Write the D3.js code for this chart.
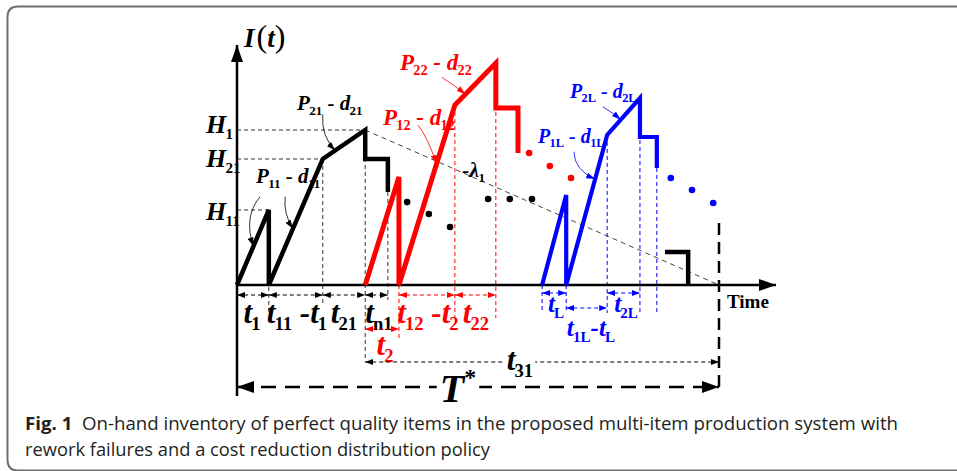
<!DOCTYPE html>
<html>
<head>
<meta charset="utf-8">
<script src="https://cdn.jsdelivr.net/npm/d3@7"></script>
<style>
  body { margin: 0; background: #fff; }
  svg { display: block; }
</style>
</head>
<body>
<script>
// time is in units of T* (T* = 100), stock in units of H1 (H1 = 100)
const blackCycle = [[0, 0], [6.6, 48.4], [6.6, 0], [17.8, 81.3], [26.6, 100], [26.6, 81.3], [31.3, 81.3], [31.3, 60]];
const redCycle = [[26.6, 0], [33.6, 69.7], [33.6, 0], [45.2, 116.1], [53.7, 143.2], [53.7, 114.2], [58.3, 114.2], [58.3, 85.2]];
const blueCycle = [[63.3, 0], [68.3, 58.1], [68.3, 0], [76.8, 96.8], [83.6, 120.6], [83.6, 95.5], [87.1, 95.5], [87.1, 75.5]];
const lastStep = [[88.8, 21.3], [93.6, 21.3], [93.6, 0]];

const blackDots = [[35.3, 53.5], [39.8, 45.8], [44.2, 37.4], [52.1, 55.5], [56.6, 55.5], [61.2, 55.5]];
const redDots = [[60.6, 85.2], [64.9, 76.8], [69.3, 69.0]];
const blueDots = [[90.0, 69.0], [94.4, 61.3], [98.8, 52.9]];

// levels on the stock axis
const levelNames = [["H", "1"], ["H", "21"], ["H", "11"]];
const levelValues = [100, 81.3, 48.4];
const levelTimes = [26.6, 17.8, 6.6];

// interval boundaries and labels (main, sub, main, sub ...)
const blackBreaks = [0, 6.6, 17.8, 26.6, 31.3];
const blackSpanLabels = [["t", "1"], ["t", "11", " -t", "1"], ["t", "21"], ["t", "n1"]];
const redBreaks = [33.6, 45.2, 53.7];
const redSpanLabels = [["t", "12", " -t", "2"], ["t", "22"]];
const redLowSpan = [26.6, 33.6];
const redLowLabel = ["t", "2"];
const blueSpans = [[63.3, 68.3], [76.8, 83.6]];
const blueSpanLabels = [["t", "L"], ["t", "2L"]];
const blueLowSpan = [68.3, 76.8];
const blueLowLabel = ["t", "1L", "-t", "L"];
const cycleEnd = 100;
const t31Start = 26.6;

// rate labels
const rateLabels = [
  ["P", "11", " - d", "11"], ["P", "21", " - d", "21"],
  ["P", "12", " - d", "12"], ["P", "22", " - d", "22"],
  ["P", "1L", " - d", "1L"], ["P", "2L", " - d", "2L"]
];
const blackSteep = [[0, 0], [6.6, 48.4]];

const width = 957, height = 471;
const serif = "'Liberation Serif', 'Times New Roman', serif";

const svg = d3.select("body").append("svg")
  .attr("width", width)
  .attr("height", height);

const x = d3.scaleLinear().domain([0, 100]).range([237, 719]);
const y = d3.scaleLinear().domain([0, 100]).range([285, 130]);

// frame
svg.append("path")
  .attr("d", "M957,6.5 H18 Q7.5,6.5 7.5,17 V460 Q7.5,470.5 18,470.5 H957")
  .attr("fill", "none")
  .attr("stroke", "#6e6e6e")
  .attr("stroke-width", 2);

// arrow heads
const defs = svg.append("defs");
function arrowMarker(id, color, len, wid) {
  defs.append("marker")
    .attr("id", id)
    .attr("markerUnits", "userSpaceOnUse")
    .attr("markerWidth", len)
    .attr("markerHeight", wid)
    .attr("viewBox", "0 0 " + len + " " + wid)
    .attr("refX", len)
    .attr("refY", wid / 2)
    .attr("orient", "auto-start-reverse")
    .append("path")
    .attr("d", "M0,0 L" + len + "," + (wid / 2) + " L0," + wid + " Z")
    .attr("fill", color);
}
arrowMarker("bigK", "#000", 17, 12);
arrowMarker("smK", "#000", 8, 6);
arrowMarker("smR", "#f00", 8, 6);
arrowMarker("smB", "#00f", 8, 6);
arrowMarker("ptK", "#000", 9, 6);
arrowMarker("ptR", "#f00", 9, 6);
arrowMarker("ptB", "#00f", 9, 6);

// text with subscripts: parts alternate main / sub
function rich(g, px, py, parts, size, color, anchor, subScale) {
  const k = subScale || 0.6;
  const t = g.append("text")
    .attr("x", px).attr("y", py)
    .attr("fill", color)
    .attr("font-family", serif)
    .attr("font-weight", "bold")
    .attr("text-anchor", anchor || "middle")
    .attr("xml:space", "preserve");
  let shifted = 0;
  parts.forEach((p, i) => {
    const sub = i % 2 === 1;
    const dy = sub ? size * 0.22 : 0;
    t.append("tspan")
      .text(p)
      .attr("dy", dy - shifted)
      .attr("dx", sub ? -size * 0.03 : 0)
      .attr("font-size", sub ? size * k : size)
      .attr("font-style", sub ? "normal" : "italic");
    shifted = dy;
  });
  return t;
}

function backWhite(t, pad) {
  const b = t.node().getBBox();
  svg.insert("rect", function () { return t.node(); })
    .attr("x", b.x - pad).attr("y", b.y + 4)
    .attr("width", b.width + 2 * pad).attr("height", b.height - 8)
    .attr("fill", "#fff");
}

function dashed(x1, y1, x2, y2, color, dash, w) {
  return svg.append("line")
    .attr("x1", x1).attr("y1", y1).attr("x2", x2).attr("y2", y2)
    .attr("stroke", color)
    .attr("stroke-width", w || 1)
    .attr("stroke-dasharray", dash || "4,3");
}

// guide lines for levels
levelValues.forEach((v, i) => {
  dashed(x(0), y(v), x(levelTimes[i]), y(v), "#333");
});

// -lambda line
dashed(x(26.6), y(100), x(cycleEnd), y(0), "#444", "5,4");

// vertical guides
const blackDrops = [[6.6, 48.4, 315], [17.8, 81.3, 304], [26.6, 100, 362], [31.3, 60, 300]];
blackDrops.forEach(d => dashed(x(d[0]), y(d[1]), x(d[0]), d[2], "#333"));
const redDrops = [[33.6, 0, 338], [45.2, 116.1, 318], [53.7, 143.2, 318]];
redDrops.forEach(d => dashed(x(d[0]), y(d[1]), x(d[0]), d[2], "#f00"));
const blueDrops = [[63.3, 0, 313], [68.3, 0, 313], [76.8, 96.8, 313], [83.6, 120.6, 313], [87.1, 75.5, 313]];
blueDrops.forEach(d => dashed(x(d[0]), y(d[1]), x(d[0]), d[2], "#00f"));

// end of cycle line
dashed(x(cycleEnd), 223, x(cycleEnd), 387, "#000", "12,7", 2.5);

// axes
svg.append("line")
  .attr("x1", x(0)).attr("y1", 396).attr("x2", x(0)).attr("y2", 45)
  .attr("stroke", "#000").attr("stroke-width", 2.5)
  .attr("marker-end", "url(#bigK)");
svg.append("line")
  .attr("x1", x(0)).attr("y1", y(0)).attr("x2", 776).attr("y2", y(0))
  .attr("stroke", "#000").attr("stroke-width", 2.5)
  .attr("marker-end", "url(#bigK)");

// inventory curves
const line = d3.line().x(d => x(d[0])).y(d => y(d[1]));
[[blackCycle, "#000", 4.5], [redCycle, "#f00", 5], [blueCycle, "#00f", 4.2], [lastStep, "#000", 4.5]]
  .forEach(c => {
    svg.append("path")
      .datum(c[0])
      .attr("d", line)
      .attr("fill", "none")
      .attr("stroke", c[1])
      .attr("stroke-width", c[2])
      .attr("stroke-linejoin", "miter")
      .attr("stroke-miterlimit", 3);
  });

// dots
[[blackDots, "#000"], [redDots, "#f00"], [blueDots, "#00f"]].forEach(s => {
  svg.selectAll(null)
    .data(s[0])
    .enter()
    .append("circle")
    .attr("cx", d => x(d[0]))
    .attr("cy", d => y(d[1]))
    .attr("r", 3.3)
    .attr("fill", s[1]);
});

// interval arrows
function span(t0, t1, py, color, mk) {
  dashed(x(t0), py, x(t1), py, color, "4,3", 1.1)
    .attr("marker-start", "url(#" + mk + ")")
    .attr("marker-end", "url(#" + mk + ")");
}
for (let i = 0; i < blackBreaks.length - 1; i++) {
  span(blackBreaks[i], blackBreaks[i + 1], 295, "#000", "smK");
}
const blackLabelX = [252, 297, 344, 379];
blackSpanLabels.forEach((l, i) => rich(svg, blackLabelX[i], 323, l, 31, "#000"));

for (let i = 0; i < redBreaks.length - 1; i++) {
  span(redBreaks[i], redBreaks[i + 1], 295, "#f00", "smR");
}
const redLabelX = [428, 476];
redSpanLabels.forEach((l, i) => rich(svg, redLabelX[i], 323, l, 31, "#f00"));
span(redLowSpan[0], redLowSpan[1], 329, "#f00", "smR");
rich(svg, 385, 355, redLowLabel, 31, "#f00");

blueSpans.forEach(s => span(s[0], s[1], 293, "#00f", "smB"));
const blueLabelX = [556, 626];
blueSpanLabels.forEach((l, i) => rich(svg, blueLabelX[i], 312, l, 25, "#00f"));
span(blueLowSpan[0], blueLowSpan[1], 308, "#00f", "smB");
rich(svg, 591, 336, blueLowLabel, 25, "#00f");

// t31 and T*
span(t31Start, cycleEnd, 362, "#000", "smK");
const t31 = rich(svg, 520, 370, ["t", "31"], 31, "#000");
backWhite(t31, 2);

dashed(x(0), 387, x(cycleEnd), 387, "#000", "15,9", 2.6)
  .attr("marker-start", "url(#bigK)")
  .attr("marker-end", "url(#bigK)");
const tStar = svg.append("text")
  .attr("x", 458).attr("y", 402)
  .attr("font-family", serif)
  .attr("font-weight", "bold")
  .attr("font-style", "italic")
  .attr("font-size", 40)
  .attr("text-anchor", "middle")
  .text("T");
tStar.append("tspan")
  .attr("font-size", 24)
  .attr("font-style", "normal")
  .attr("dy", -17)
  .text("*");
backWhite(tStar, 3);

// axis labels
const it = svg.append("text")
  .attr("x", 244).attr("y", 47)
  .attr("font-family", serif)
  .attr("font-weight", "bold")
  .attr("font-size", 27);
it.append("tspan").attr("font-style", "italic").text("I");
it.append("tspan").attr("font-weight", "normal").attr("font-size", 32).attr("dx", 2).text("(");
it.append("tspan").attr("font-style", "italic").text("t");
it.append("tspan").attr("font-weight", "normal").attr("font-size", 32).text(")");

svg.append("text")
  .attr("x", 727).attr("y", 308)
  .attr("font-family", serif)
  .attr("font-weight", "bold")
  .attr("font-size", 19)
  .text("Time");

const levelBase = [133, 167, 220];
levelNames.forEach((n, i) => rich(svg, 206, levelBase[i], n, 26, "#000", "start", 0.58));

// rate labels and their pointers
const ratePos = [[256, 183, "#000", 21], [297, 110, "#000", 21], [383, 125, "#f00", 23],
                 [400, 70, "#f00", 23], [538, 143, "#00f", 20], [570, 98, "#00f", 20]];
rateLabels.forEach((l, i) => rich(svg, ratePos[i][0], ratePos[i][1], l, ratePos[i][3], ratePos[i][2], "start", 0.62));

rich(svg, 462, 177, ["-λ", "1"], 22, "#000", "start");

function onSeg(seg, t) {
  const f = (t - seg[0][0]) / (seg[1][0] - seg[0][0]);
  return [t, seg[0][1] + f * (seg[1][1] - seg[0][1])];
}
const pointers = [
  [[4.8, 57], [1.3, 44], onSeg(blackSteep, 3.4), "#000", "ptK"],
  [[10.0, 57], [9.6, 46], onSeg([blackCycle[2], blackCycle[3]], 11.6), "#000", "ptK"],
  [[17.8, 110], [17.4, 96], onSeg([blackCycle[3], blackCycle[4]], 20.4), "#000", "ptK"],
  [[37.6, 103], [39.6, 95], onSeg([redCycle[2], redCycle[3]], 41.4), "#f00", "ptR"],
  [[42.5, 134], [45.0, 129], onSeg([redCycle[3], redCycle[4]], 47.4), "#f00", "ptR"],
  [[69.9, 86], [70.0, 74], onSeg([blueCycle[2], blueCycle[3]], 74.3), "#00f", "ptB"],
  [[75.9, 115], [78.0, 111], onSeg([blueCycle[3], blueCycle[4]], 79.6), "#00f", "ptB"]
];
pointers.forEach(p => {
  svg.append("path")
    .attr("d", "M" + x(p[0][0]) + "," + y(p[0][1]) + " Q" + x(p[1][0]) + "," + y(p[1][1]) + " " + x(p[2][0]) + "," + y(p[2][1]))
    .attr("fill", "none")
    .attr("stroke", p[3])
    .attr("stroke-width", 0.8)
    .attr("marker-end", "url(#" + p[4] + ")");
});

// caption
const capFont = "'Open Sans', 'Noto Sans', sans-serif";
const cap1 = svg.append("text")
  .attr("x", 25).attr("y", 430)
  .attr("font-family", capFont)
  .attr("font-size", 18)
  .attr("fill", "#231f20")
  .attr("textLength", 873)
  .attr("lengthAdjust", "spacingAndGlyphs");
cap1.append("tspan").attr("font-weight", "bold").text("Fig. 1");
cap1.append("tspan").attr("xml:space", "preserve")
  .text("  On-hand inventory of perfect quality items in the proposed multi-item production system with");
svg.append("text")
  .attr("x", 25).attr("y", 456)
  .attr("font-family", capFont)
  .attr("font-size", 18)
  .attr("fill", "#231f20")
  .attr("textLength", 465)
  .attr("lengthAdjust", "spacingAndGlyphs")
  .text("rework failures and a cost reduction distribution policy");
</script>
</body>
</html>
